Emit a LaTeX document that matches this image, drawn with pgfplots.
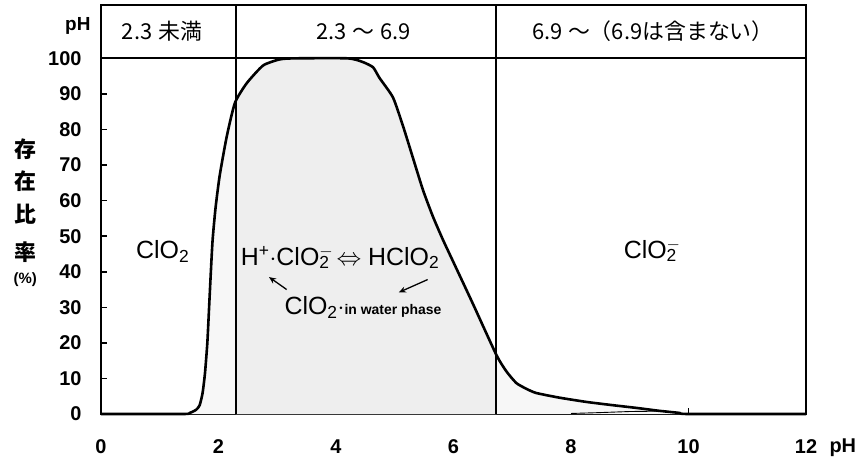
\documentclass[border=0pt]{standalone}
\usepackage{pgfplots}
\pgfplotsset{compat=1.18}
\usepackage{pgfplotstable}
\usetikzlibrary{arrows.meta}
\usepackage{fontspec}
\setmainfont{Liberation Sans}
\newfontfamily\cjk{Noto Sans CJK JP}

\pgfplotstableread{
x y
0 0
1.40 0
1.51 0.3
1.62 1.2
1.68 2.5
1.73 6
1.77 11.5
1.81 20
1.84 30
1.87 40
1.90 49
1.95 58
2.02 67
2.14 78
2.28 87.5
2.48 93
2.76 98
3.04 99.7
3.30 100
4.20 100
4.45 99
4.63 97.5
4.74 94.5
4.97 89
5.14 81
5.31 72
5.48 63
5.65 55.5
5.82 49
5.99 43
6.33 31
6.73 16.6
6.90 12
7.07 8.7
7.25 7
7.41 5.9
7.80 4.6
8.26 3.4
8.70 2.5
9.12 1.7
9.50 0.9
9.85 0.3
10.0 0
12 0
}\curve

\pgfplotstableread{
x y
2.30 88
2.48 93
2.76 98
3.04 99.7
3.30 100
4.20 100
4.45 99
4.63 97.5
4.74 94.5
4.97 89
5.14 81
5.31 72
5.48 63
5.65 55.5
5.82 49
5.99 43
6.33 31
6.73 16.6
}\middle

\begin{document}
\begin{tikzpicture}[x=1bp,y=1bp]
\begin{axis}[
  scale only axis, width=705bp, height=409bp,
  xmin=0, xmax=12, ymin=0, ymax=115,
  axis line style={line width=2.2bp},
  xtick={0,2,...,12}, ytick={0,10,...,100},
  xtick pos=lower, ytick pos=left,
  tick align=inside, major tick length=6bp,
  tick style={line width=1.6bp, black},
  ticklabel style={font=\fontsize{20}{22}\selectfont\bfseries},
  /pgf/number format/assume math mode=true,
  xticklabel style={yshift=-22bp},
  yticklabel style={xshift=-16bp},
  clip=false,
]
\coordinate (sw) at (rel axis cs:0,0);
\addplot[fill=gray!6, draw=none, smooth, tension=0.35] table {\curve} \closedcycle;
\addplot[fill=gray!13, draw=none, smooth, tension=0.35] table {\middle} \closedcycle;
\addplot[black, line width=2.6bp, line join=round, smooth, tension=0.35] table {\curve};
\addplot[black, line width=0.9bp] coordinates {(8.0,0.15) (8.5,0.4) (9.0,0.7) (9.5,0.8) (9.85,0.3)};
\addplot[black, line width=2bp] coordinates {(2.3,0) (2.3,115)};
\addplot[black, line width=2bp] coordinates {(6.73,0) (6.73,115)};
\addplot[black, line width=2.2bp] coordinates {(0,100) (12,100)};

% header
\node[font=\cjk\fontsize{22}{22}\selectfont] at (axis cs:1.04,107.6) {2.3\hspace{6bp}未満};
\node[font=\cjk\fontsize{22}{22}\selectfont] at (axis cs:4.47,107.6) {2.3\hspace{6bp}～\hspace{6bp}6.9};
\node[font=\cjk\fontsize{22}{22}\selectfont] at (axis cs:9.4,107.6) {6.9 ～（6.9は含まない）};
\node[font=\bfseries\fontsize{19}{19}\selectfont, anchor=east] at (axis cs:-0.12,109) {pH};
\node[font=\bfseries\fontsize{20}{20}\selectfont, anchor=west] at (axis cs:12.34,-9.6) {pH};

% y label
\node[font=\cjk\bfseries\fontsize{22}{22}\selectfont] at (axis cs:-1.29,74.4) {存};
\node[font=\cjk\bfseries\fontsize{22}{22}\selectfont] at (axis cs:-1.29,65.4) {在};
\node[font=\cjk\bfseries\fontsize{22}{22}\selectfont] at (axis cs:-1.29,56.1) {比};
\node[font=\cjk\bfseries\fontsize{22}{22}\selectfont] at (axis cs:-1.29,45.6) {率};
\node[font=\bfseries\fontsize{15}{15}\selectfont] at (axis cs:-1.29,37.7) {(\%)};

% annotations
\node[font=\fontsize{25}{25}\selectfont] at (axis cs:1.05,45.6) {ClO\textsubscript{2}};
\node[font=\fontsize{25}{25}\selectfont] at (axis cs:4.07,44) {H\textsuperscript{+}$\cdot$ClO\rlap{\textsuperscript{$-$}}\textsubscript{2} $\Leftrightarrow$ HClO\textsubscript{2}};
\node[font=\fontsize{25}{25}\selectfont] at (axis cs:4.46,30) {ClO\textsubscript{2}$\cdot${\fontsize{14}{14}\selectfont\bfseries in water phase}};
\node[font=\fontsize{25}{25}\selectfont] at (axis cs:9.35,46) {ClO\rlap{\textsuperscript{$-$}}\textsubscript{2}};
\draw[-{Stealth[length=7bp,width=6bp]}, line width=1.3bp] (axis cs:3.16,35) -- (axis cs:2.86,38.5);
\draw[-{Stealth[length=7bp,width=6bp]}, line width=1.3bp] (axis cs:5.56,37.8) -- (axis cs:5.07,34.2);
\end{axis}
\pgfresetboundingbox
\path[use as bounding box] ([shift={(-101bp,-48bp)}]sw) rectangle ++(858bp,462bp);
\end{tikzpicture}
\end{document}
